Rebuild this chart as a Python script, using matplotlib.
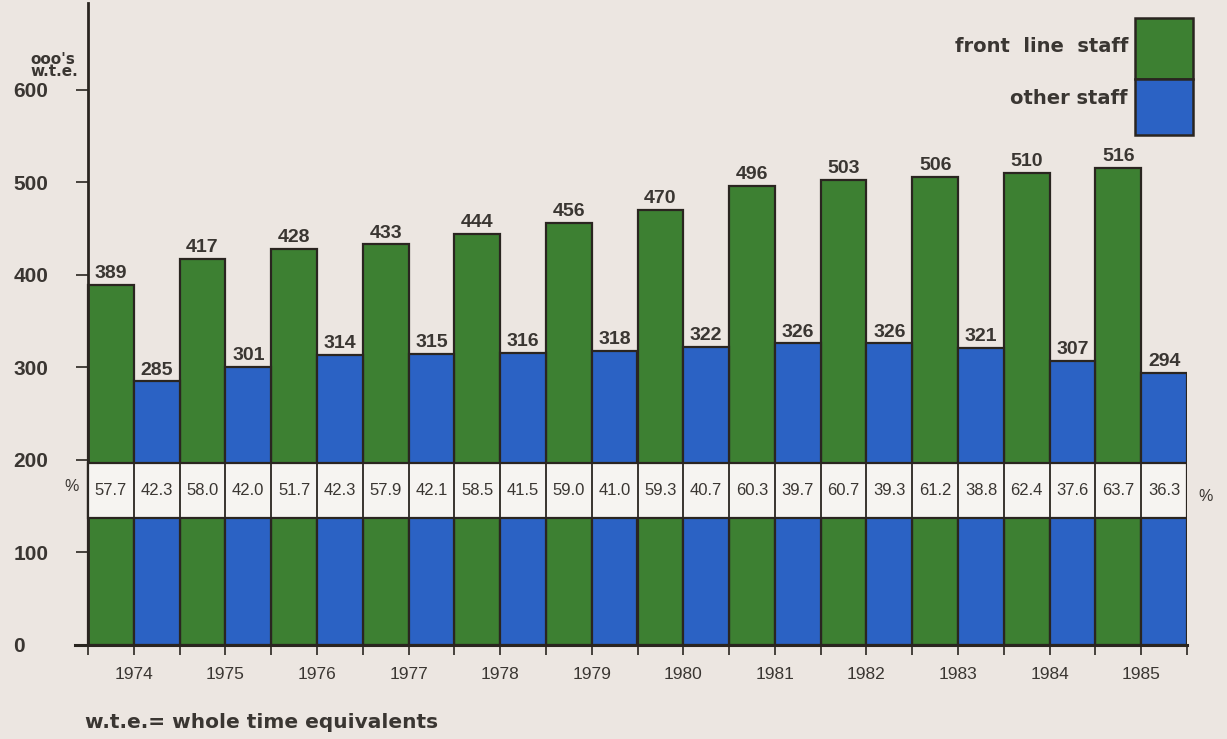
import matplotlib
matplotlib.use("Agg")
import matplotlib.pyplot as plt
from matplotlib.patches import Rectangle

years = ["1974", "1975", "1976", "1977", "1978", "1979",
         "1980", "1981", "1982", "1983", "1984", "1985"]
front_line = [389, 417, 428, 433, 444, 456, 470, 496, 503, 506, 510, 516]
other_staff = [285, 301, 314, 315, 316, 318, 322, 326, 326, 321, 307, 294]
front_pct = ["57.7", "58.0", "51.7", "57.9", "58.5", "59.0",
             "59.3", "60.3", "60.7", "61.2", "62.4", "63.7"]
other_pct = ["42.3", "42.0", "42.3", "42.1", "41.5", "41.0",
             "40.7", "39.7", "39.3", "38.8", "37.6", "36.3"]
y_ticks = [0, 100, 200, 300, 400, 500, 600]
y_labels = ["0", "100", "200", "300", "400", "500", "600"]

BG = "#ece6e1"
GREEN = "#3d8032"
BLUE = "#2b62c4"
EDGE = "#2a2520"
TXT = "#3a3632"
SANS = ["Liberation Sans", "DejaVu Sans"]
WIDE = ["DejaVu Sans"]

W, H = 1227, 739
fig = plt.figure(figsize=(W / 100, H / 100), dpi=100, facecolor=BG)

unit = 1099 / 24.0
x0 = -0.28
left_px = 88 + x0 * unit
ax = fig.add_axes([left_px / W, (H - 645) / H, (24 - x0) * unit / W, 642 / H])
ax.set_facecolor(BG)
ax.set_xlim(x0, 24)
ax.set_ylim(0, 694)

n = len(years)
gx = [2 * i + 0.5 for i in range(n)]
bx = [2 * i + 1.5 for i in range(n)]
ax.bar(gx, front_line, width=1.0, color=GREEN, edgecolor=EDGE, linewidth=1.6, zorder=2)
ax.bar(bx, other_staff, width=1.0, color=BLUE, edgecolor=EDGE, linewidth=1.6, zorder=2)

for x, v in zip(gx, front_line):
    ax.text(x, v + 3, str(v), ha="center", va="bottom", fontsize=14,
            fontweight="bold", family=SANS, color=TXT, zorder=5)
for x, v in zip(bx, other_staff):
    ax.text(x, v + 3, str(v), ha="center", va="bottom", fontsize=14,
            fontweight="bold", family=SANS, color=TXT, zorder=5)

# white percentage band
band_lo, band_hi = 137, 197
ax.add_patch(Rectangle((0, band_lo), 24, band_hi - band_lo, facecolor="#f6f4f1",
                       edgecolor=EDGE, linewidth=1.6, zorder=3))
ax.vlines(range(0, 25), band_lo, band_hi, colors=EDGE, linewidth=1.3, zorder=4)
mid = (band_lo + band_hi) / 2
for x, p in zip(gx, front_pct):
    ax.text(x, mid, p, ha="center", va="center", fontsize=12, family=SANS,
            color=TXT, zorder=5)
for x, p in zip(bx, other_pct):
    ax.text(x, mid, p, ha="center", va="center", fontsize=12, family=SANS,
            color=TXT, zorder=5)
ax.text(-0.2, mid + 4, "%", ha="right", va="center", fontsize=11.5, family=SANS, color=TXT)
ax.text(24.25, mid - 6, "%", ha="left", va="center", fontsize=11.5, family=SANS,
        color=TXT, clip_on=False)

# axes styling
for s in ["top", "right"]:
    ax.spines[s].set_visible(False)
ax.spines["left"].set_position(("data", 0))
ax.spines["left"].set_color(EDGE)
ax.spines["left"].set_linewidth(2.0)
ax.spines["bottom"].set_color(EDGE)
ax.spines["bottom"].set_linewidth(2.2)

ax.set_yticks(y_ticks)
ax.set_yticklabels(y_labels, fontsize=15, fontweight="bold", family=SANS, color=TXT)
ax.tick_params(axis="y", direction="out", length=8.6, width=1.2, color=EDGE, pad=45)
for lab in ax.get_yticklabels():
    lab.set_horizontalalignment("left")

xt = list(range(0, 25))
xl = [years[(t - 1) // 2] if t % 2 == 1 else "" for t in xt]
ax.set_xticks(xt)
ax.set_xticklabels(xl, fontsize=12.5, family=SANS, color=TXT)
ax.tick_params(axis="x", direction="out", length=7, width=1.2, color=EDGE, pad=9)

# unit label
fig.text(30 / W, 1 - 66 / H, "ooo's\nw.t.e.", ha="left", va="center", fontsize=11,
         fontweight="bold", family=WIDE, color=TXT, linespacing=0.75)

# legend
fig.add_artist(Rectangle((1135 / W, 1 - 79 / H), 58 / W, 61 / H, transform=fig.transFigure,
                         facecolor=GREEN, edgecolor=EDGE, linewidth=1.8))
fig.add_artist(Rectangle((1135 / W, 1 - 135 / H), 58 / W, 56 / H, transform=fig.transFigure,
                         facecolor=BLUE, edgecolor=EDGE, linewidth=1.8))
fig.text(1128 / W, 1 - 47 / H, "front  line  staff", ha="right", va="center", fontsize=14,
         fontweight="bold", family=WIDE, color=TXT)
fig.text(1128 / W, 1 - 98 / H, "other staff", ha="right", va="center", fontsize=14,
         fontweight="bold", family=WIDE, color=TXT)

# footnote
fig.text(85 / W, 1 - 722 / H, "w.t.e.= whole time equivalents", ha="left", va="center",
         fontsize=14.5, fontweight="bold", family=WIDE, color=TXT)

fig.savefig("out.png", dpi=100, facecolor=BG)
